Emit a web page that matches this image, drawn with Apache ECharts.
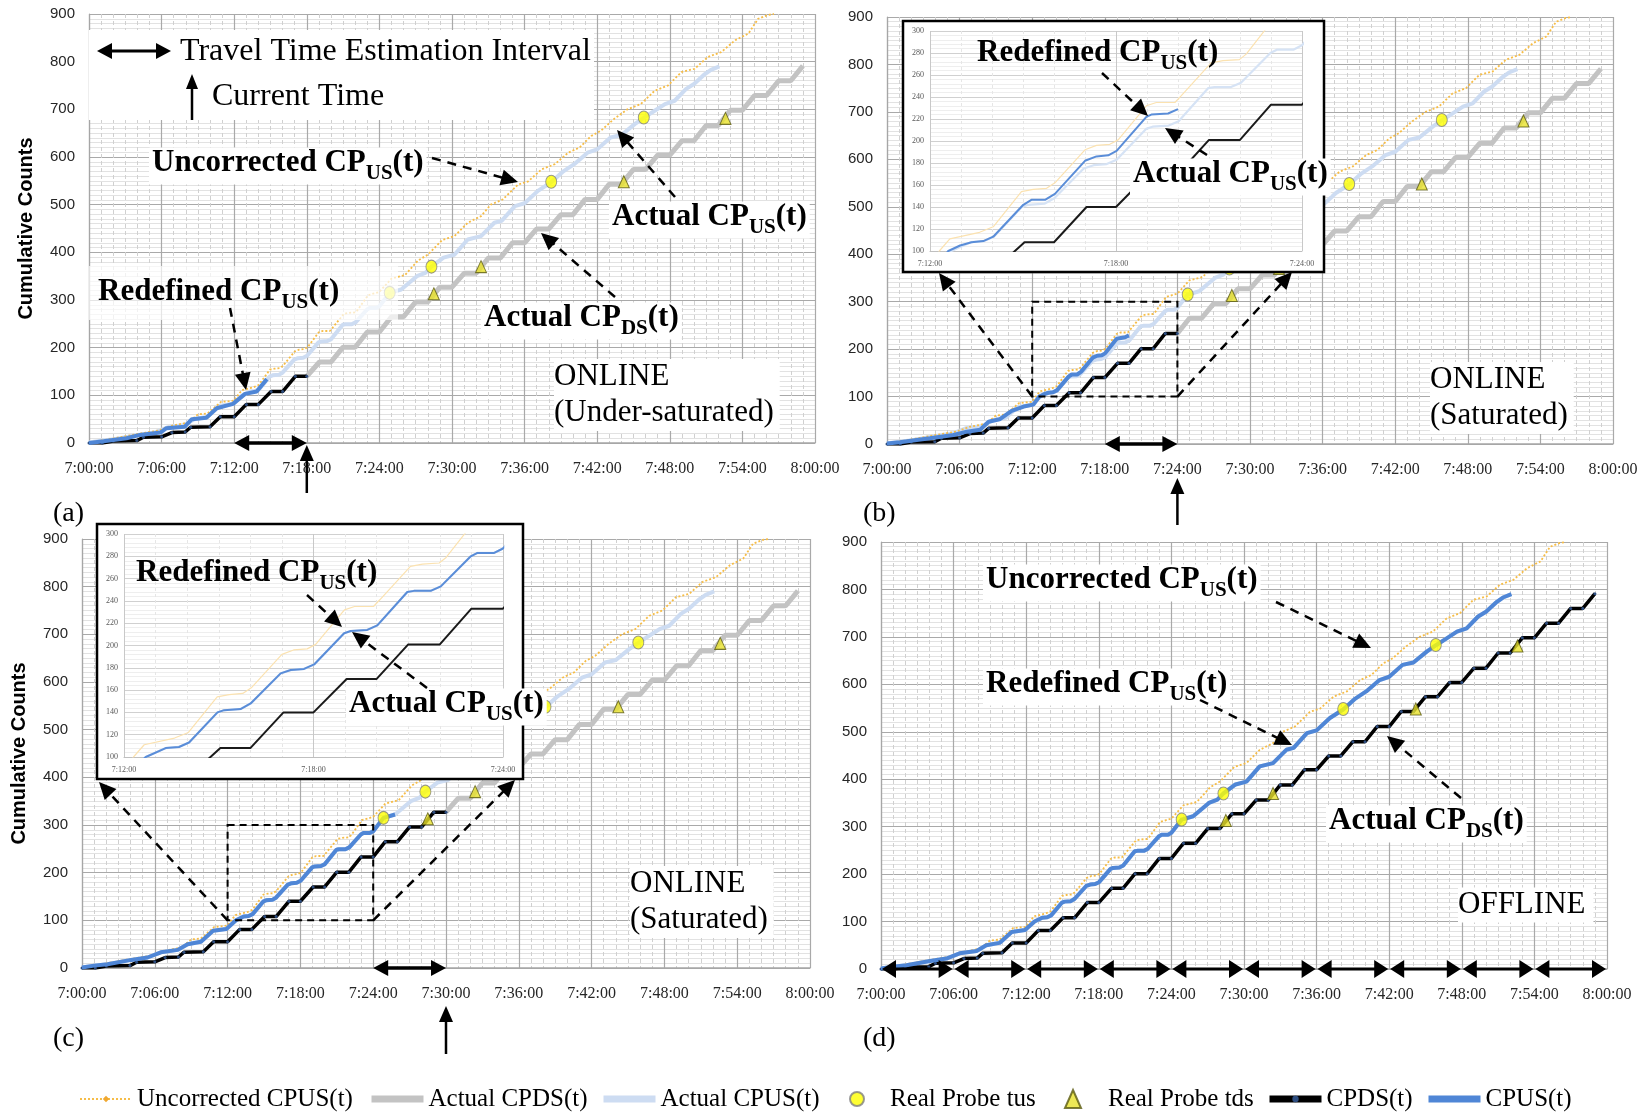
<!DOCTYPE html>
<html><head><meta charset="utf-8">
<script src="https://cdn.jsdelivr.net/npm/echarts@6/dist/echarts.min.js"></script>
<style>html,body{margin:0;padding:0;background:#fff}#c{width:1647px;height:1115px}</style>
</head><body><div id="c"></div>
<script>
// ---------------- DATA (x = minutes after 7:00:00, y = cumulative count) ----------------
const xTickLabels = ['7:00:00','7:06:00','7:12:00','7:18:00','7:24:00','7:30:00','7:36:00','7:42:00','7:48:00','7:54:00','8:00:00'];

const uncorrectedUS = [[0,1],[2.1,10],[4.05,19],[5.7,26],[6.8,36],[8.2,43],[9,60],[9.8,62],[10.9,86],[12,89],[12.3,100],[12.64,111],[13.6,117],[14.04,122],[14.95,154],[15.33,156],[15.76,157],[16.03,162],[17.0,192],[17.37,196],[17.8,197],[18.07,201],[18.98,232],[19.3,235],[19.9,235],[20.1,241],[21.07,271],[21.45,273],[21.98,274],[22.2,279],[23.06,310],[24,317],[25,345],[26.1,352],[27.2,383],[28,395],[29.2,426],[30.2,434],[31.3,462],[32.4,476],[33.2,500],[34.2,511],[35.45,542],[36.3,549],[37.4,574],[38.5,585],[39.6,609],[40.55,620],[41.5,644],[42.3,655],[43.4,680],[44.5,700],[45.6,711],[46.75,739],[47.85,750],[48.95,778],[50.05,785],[51.15,810],[52.25,820],[53.4,845],[54.5,859],[55.3,890],[56.1,898],[56.6,900]];

const actualUS = [[0,1],[1,5],[2.1,8],[4.05,17],[5.4,22],[6.5,33],[7.9,38],[8.7,50],[9.8,55],[10.8,78],[11.9,82],[12.69,100],[13.32,108],[13.74,109],[14.06,113],[14.96,140],[15.17,142],[15.69,143],[16.01,148],[16.96,175],[17.28,178],[17.7,179],[18.02,183],[18.97,211],[19.18,213],[19.7,214],[20.02,218],[20.97,248],[21.18,249],[21.71,249],[22.03,253],[22.98,280],[23.19,283],[23.72,283],[24,287],[24.85,315],[25.8,322],[27.1,350],[27.8,357],[28.3,370],[29.3,389],[30.2,395],[31.3,427],[32.4,434],[33.5,462],[34.1,466],[35.2,497],[36,503],[37.1,529],[38.2,547],[39.2,570],[40.1,585],[41.2,609],[42,616],[43.1,641],[44,646],[45.1,669],[45.9,683],[46.75,697],[47.6,711],[48.4,718],[49.35,743],[50,753],[50.9,774],[51.4,783],[52.1,790]];

const actualDS = [[0,0],[1.1,0],[2.0,4],[3.95,5],[4.5,12],[6.0,13],[6.85,22],[7.95,23],[8.4,33],[10.0,34],[10.85,55],[12,55],[13,81],[14,81],[15.05,108],[16,108],[17.05,140],[18,140],[19.05,170],[20,170],[21,201],[22,201],[23,233],[24,233],[25,265],[26,265],[27,296],[28,296],[29,327],[30,327],[31,356],[32,356],[33,388],[34,388],[35,420],[36,420],[37,449],[38,449],[39,479],[40,479],[41,511],[42,511],[43,543],[44,543],[45,574],[46,574],[47,604],[48,604],[49,634],[50,634],[51,666],[52,666],[53,698],[54,698],[55,729],[56,729],[57,760],[58,760],[59,791]];

const probeTus = [[24.85,315],[28.3,370],[38.2,548],[45.85,683]];
const probeTds = [[28.5,313],[32.4,370],[44.2,548],[52.6,681]];

// Redefined CPUS(t) per panel
const cpusA = [[0,0],[1.2,3.5],[3.1,10],[4.2,17],[5.9,22],[6.4,31],[7.9,34],[8.5,50],[9.7,53],[10.55,73],[11.9,82],[12.9,103],[13.86,108],[14.7,134]];
const cpusB = [[0,1],[1.07,3.5],[2.45,8.5],[3.55,12],[5.5,19],[6.6,26],[7.7,30],[8.4,47],[9.3,52],[10.3,70],[11.3,79],[12.1,83],[12.59,100],[12.97,105],[13.34,108],[13.72,109],[14.04,113],[15.01,142],[15.27,146.5],[15.71,146.5],[16.03,152],[17.0,182],[17.37,186],[17.75,187],[18.02,191],[18.98,222],[19.14,224],[19.68,225],[20.0,229]];
const cpusCEnd = 26.1;

// current time (minutes after 7:00) per panel a, b, c, d
const currentTime = [18, 24, 30, 59];

// ---------------- STYLE / LAYOUT ----------------
const SERIF = 'Liberation Serif', SANS = 'Liberation Sans';
const fmtX = v => xTickLabels[Math.round(v / 6)];
const mainGrids = [
  {left:89, top:14, width:726, height:429},
  {left:887, top:17, width:726, height:427},
  {left:82, top:539, width:728, height:429},
  {left:881, top:542, width:726, height:427}
];
const insetGrids = [
  {left:930, top:31, width:372, height:220},
  {left:124, top:534, width:379, height:223}
];
const grids = mainGrids.concat(insetGrids).map(g => Object.assign({show:false, outerBoundsMode:'none', containLabel:false}, g));

const xAxes = [], yAxes = [];
mainGrids.forEach((g, i) => {
  xAxes.push({gridIndex:i, type:'value', min:0, max:60, interval:6, z:1,
    axisLine:{show:true, onZero:false, lineStyle:{color:'#a6a6a6', width:1.5}}, axisTick:{show:false},
    axisLabel:{formatter:fmtX, fontFamily:SERIF, fontSize:16, color:'#262626', margin:18},
    splitLine:{show:true, lineStyle:{color:'#a9a9a9', width:1.2}},
    minorTick:{show:false, splitNumber:6},
    minorSplitLine:{show:true, lineStyle:{color:'#d0d0d0', width:1, type:[4,3]}}});
  yAxes.push({gridIndex:i, type:'value', min:0, max:900, interval:100, z:1,
    name:(i===0||i===2)?'Cumulative Counts':'', nameLocation:'middle', nameGap:53, nameRotate:90,
    nameTextStyle:{fontFamily:SANS, fontWeight:'bold', fontSize:20, color:'#000'},
    axisLine:{show:true, lineStyle:{color:'#a6a6a6', width:1.2}}, axisTick:{show:false},
    axisLabel:{fontFamily:SANS, fontSize:15, color:'#262626', margin:14},
    splitLine:{show:true, lineStyle:{color:'#a9a9a9', width:1.2}},
    minorTick:{show:false, splitNumber:10},
    minorSplitLine:{show:true, lineStyle:{color:'#e2e2e2', width:1}}});
});
insetGrids.forEach((g, k) => {
  const i = 4 + k;
  xAxes.push({gridIndex:i, type:'value', min:12, max:24, interval:6, z:60,
    axisLine:{show:true, onZero:false, lineStyle:{color:'#bfbfbf', width:1}}, axisTick:{show:false},
    axisLabel:{formatter:fmtX, fontFamily:SERIF, fontSize:8, color:'#595959', margin:9},
    splitLine:{show:true, lineStyle:{color:'#c8c8c8', width:1}},
    minorTick:{show:false, splitNumber:6},
    minorSplitLine:{show:true, lineStyle:{color:'#e6e6e6', width:1, type:[3,3]}}});
  yAxes.push({gridIndex:i, type:'value', min:100, max:300, interval:20, z:60,
    axisLine:{show:false}, axisTick:{show:false},
    axisLabel:{fontFamily:SERIF, fontSize:8, color:'#595959', margin:6},
    splitLine:{show:true, lineStyle:{color:'#d0d0d0', width:1}},
    minorTick:{show:false, splitNumber:5},
    minorSplitLine:{show:true, lineStyle:{color:'#eeeeee', width:1}}});
});

const C = {yel:'#f6bd48', gray:'#c3c3c3', lblue:'#cddcf2', black:'#000000', blue:'#4f86d6'};

function mainSeries(g, tNow, cpus) {
  const ax = {xAxisIndex:g, yAxisIndex:g, animation:false, showSymbol:false};
  return [
    Object.assign({name:'Uncorrected CPUS(t)', type:'line', data:uncorrectedUS, symbol:'diamond',
      lineStyle:{color:C.yel, width:1.8, type:[2,2]}, itemStyle:{color:'#f0a830'}, z:3}, ax),
    Object.assign({name:'Actual CPDS(t)', type:'line', data:actualDS.filter(p => p[0] >= tNow), symbol:'none',
      lineStyle:{color:C.gray, width:5}, itemStyle:{color:C.gray}, z:2}, ax),
    Object.assign({name:'Actual CPUS(t)', type:'line', data:actualUS, symbol:'none',
      lineStyle:{color:C.lblue, width:4}, itemStyle:{color:C.lblue}, z:2}, ax),
    {name:'Real Probe tus', type:'scatter', xAxisIndex:g, yAxisIndex:g, data:probeTus, symbol:'circle', symbolSize:[11,13],
      itemStyle:{color:'#ffff00', borderColor:'#7f7f7f', borderWidth:1}, z:8},
    {name:'Real Probe tds', type:'scatter', xAxisIndex:g, yAxisIndex:g, data:probeTds, symbol:'triangle', symbolSize:[11,12],
      itemStyle:{color:'#e8e22c', borderColor:'#5a5a10', borderWidth:1}, z:8},
    Object.assign({name:'CPDS(t)', type:'line', data:actualDS.filter(p => p[0] <= tNow), symbol:'circle', symbolSize:3,
      lineStyle:{color:C.black, width:3.5}, itemStyle:{color:'#2d4d80'}, z:5}, ax, {showSymbol:true}),
    Object.assign({name:'CPUS(t)', type:'line', data:cpus, symbol:'none',
      lineStyle:{color:C.blue, width:4}, itemStyle:{color:C.blue}, z:6}, ax)
  ];
}
function insetSeries(g, cpus) {
  const ax = {xAxisIndex:g, yAxisIndex:g, showSymbol:false, symbol:'none', clip:true};
  return [
    Object.assign({name:'Uncorrected CPUS(t)', type:'line', data:uncorrectedUS, lineStyle:{color:'#fbe2b0', width:1.2}, itemStyle:{color:C.yel}, z:61}, ax),
    Object.assign({name:'Actual CPUS(t)', type:'line', data:actualUS, lineStyle:{color:'#d6e3f5', width:2.2}, itemStyle:{color:C.lblue}, z:61}, ax),
    Object.assign({name:'CPDS(t)', type:'line', data:actualDS, lineStyle:{color:'#1a1a1a', width:2}, itemStyle:{color:'#000'}, z:62}, ax),
    Object.assign({name:'CPUS(t)', type:'line', data:cpus, lineStyle:{color:'#5a8dd8', width:2}, itemStyle:{color:C.blue}, z:63}, ax)
  ];
}
const cpusC = actualUS.filter(p => p[0] <= cpusCEnd);
const series = [].concat(
  mainSeries(0, currentTime[0], cpusA),
  mainSeries(1, currentTime[1], cpusB),
  mainSeries(2, currentTime[2], cpusC),
  mainSeries(3, currentTime[3], actualUS),
  insetSeries(4, cpusB),
  insetSeries(5, cpusC)
);

const legendItems = [
  {name:'Uncorrected CPUS(t)', left:79, w:52, h:8, pad:0, hideSym:false, lw:null},
  {name:'Actual CPDS(t)', left:368, w:52, h:18, pad:0, hideSym:true, lw:7},
  {name:'Actual CPUS(t)', left:600, w:52, h:18, pad:0, hideSym:true, lw:7},
  {name:'Real Probe tus', left:849, w:14, h:20, pad:21, hideSym:false, lw:null},
  {name:'Real Probe tds', left:1064, w:16, h:18, pad:22, hideSym:false, lw:null},
  {name:'CPDS(t)', left:1266, w:52, h:8, pad:0, hideSym:false, lw:7},
  {name:'CPUS(t)', left:1425, w:52, h:18, pad:0, hideSym:true, lw:7}
];
const legends = legendItems.map(it => {
  const L = {
    data:[it.name], left:it.left, top:1086, orient:'horizontal', padding:0, itemGap:0,
    itemWidth:it.w, itemHeight:it.h, selectedMode:false,
    textStyle:{fontFamily:SERIF, fontSize:25, color:'#000', lineHeight:26, rich:{p:{width:it.pad}}},
    formatter: name => (it.pad ? '{p|}' : '') + name
  };
  if (it.hideSym) L.itemStyle = {opacity:0};
  if (it.lw) L.lineStyle = {width:it.lw};
  return L;
});

const chart = echarts.init(document.getElementById('c'), null, {renderer:'canvas'});
chart.setOption({
  animation:false, backgroundColor:'#fff',
  grid:grids, xAxis:xAxes, yAxis:yAxes, series:series, legend:legends
});

// ---------------- ANNOTATIONS ----------------
const P = (g, t, v) => chart.convertToPixel({gridIndex:g}, [t, v]);
const G = [];
function arrow(x1, y1, x2, y2, o) {
  o = Object.assign({w:2.5, dash:null, head:17, hw:8, start:false, end:true, color:'#000', z:100}, o || {});
  const a = Math.atan2(y2 - y1, x2 - x1), ca = Math.cos(a), sa = Math.sin(a);
  let sx = x1, sy = y1, ex = x2, ey = y2;
  if (o.end) { ex = x2 - ca * o.head * 0.8; ey = y2 - sa * o.head * 0.8; }
  if (o.start) { sx = x1 + ca * o.head * 0.8; sy = y1 + sa * o.head * 0.8; }
  G.push({type:'line', z:o.z, shape:{x1:sx, y1:sy, x2:ex, y2:ey}, style:{stroke:o.color, lineWidth:o.w, lineDash:o.dash}});
  const head = (tx, ty, c, s) => [[tx, ty], [tx - c*o.head + s*o.hw, ty - s*o.head - c*o.hw], [tx - c*o.head - s*o.hw, ty - s*o.head + c*o.hw]];
  if (o.end) G.push({type:'polygon', z:o.z, shape:{points:head(x2, y2, ca, sa)}, style:{fill:o.color}});
  if (o.start) G.push({type:'polygon', z:o.z, shape:{points:head(x1, y1, -ca, -sa)}, style:{fill:o.color}});
}
function subLabel(x, cy, main, sub, tail, bg) {
  G.push({type:'text', z:100, x:x - 3, y:cy + 3, style:{
    text:'{b|' + main + '}{s|' + sub + '}{b|' + tail + '}',
    rich:{
      b:{fontFamily:SERIF, fontWeight:'bold', fontSize:31, fill:'#000', verticalAlign:'bottom', padding:[0,0,6,0]},
      s:{fontFamily:SERIF, fontWeight:'bold', fontSize:21, fill:'#000', verticalAlign:'bottom'}
    },
    align:'left', verticalAlign:'middle', backgroundColor:bg === false ? null : '#fff', padding:[0,3,0,3]
  }});
}
function plain(x, y, text, size, extra) {
  G.push({type:'text', z:100, x:x, y:y, style:Object.assign({text:text, fontFamily:SERIF, fontSize:size, fill:'#000', align:'left', verticalAlign:'middle'}, extra || {})});
}
function rect(x, y, w, h, style, z) { G.push({type:'rect', z:z, shape:{x:x, y:y, width:w, height:h}, style:style}); }
const DASH = [9, 7];

// panel (a)
rect(89, 30, 505, 90, {fill:'#fff'}, 40);
arrow(97, 51, 171, 51, {w:3, start:true, head:15, hw:8});
plain(180, 52, 'Travel Time Estimation Interval', 32);
arrow(192, 120, 192, 74, {w:2.5, head:15, hw:6});
plain(212, 97, 'Current Time', 32);
rect(89, 266, 309, 54, {fill:'rgba(255,255,255,0.7)'}, 40);
subLabel(152, 163, 'Uncorrected CP', 'US', '(t)');
arrow(432, 158, 518, 182, {dash:DASH});
subLabel(612, 217, 'Actual CP', 'US', '(t)');
arrow(675, 197, 617, 130, {dash:DASH});
subLabel(98, 292, 'Redefined CP', 'US', '(t)', false);
arrow(230, 308, 246, 390, {dash:DASH});
subLabel(484, 318, 'Actual CP', 'DS', '(t)');
arrow(615, 297, 541, 233, {dash:DASH});
plain(554, 359, 'ONLINE\n(Under-saturated)', 31, {verticalAlign:'top', lineHeight:36, backgroundColor:'#fff', padding:[0,6,0,0]});

// panel (b)
rect(903, 21, 421, 251, {fill:'#fff', stroke:'#000', lineWidth:2.5}, 50);
subLabel(977, 53, 'Redefined CP', 'US', '(t)', false);
arrow(1102, 73, 1148, 116, {dash:DASH});
subLabel(1133, 174, 'Actual CP', 'US', '(t)');
arrow(1207, 155, 1165, 128, {dash:DASH});
plain(1430, 362, 'ONLINE\n(Saturated)', 31, {verticalAlign:'top', lineHeight:36, backgroundColor:'#fff', padding:[0,6,0,0]});

// panel (c)
rect(97, 524, 426, 255, {fill:'#fff', stroke:'#000', lineWidth:2.5}, 50);
subLabel(136, 573, 'Redefined CP', 'US', '(t)', false);
arrow(307, 595, 342, 627, {dash:DASH});
subLabel(349, 704, 'Actual CP', 'US', '(t)');
arrow(427, 688, 352, 632, {dash:DASH});
plain(630, 866, 'ONLINE\n(Saturated)', 31, {verticalAlign:'top', lineHeight:36, backgroundColor:'#fff', padding:[0,6,0,0]});

// panel (d)
subLabel(986, 580, 'Uncorrected CP', 'US', '(t)');
arrow(1276, 602, 1371, 648, {dash:DASH});
subLabel(986, 684, 'Redefined CP', 'US', '(t)');
arrow(1200, 700, 1292, 745, {dash:DASH});
subLabel(1329, 821, 'Actual CP', 'DS', '(t)');
arrow(1461, 798, 1387, 736, {dash:DASH});
plain(1458, 905, 'OFFLINE', 31, {backgroundColor:'#fff', padding:[2,8,2,0]});

// zoom rectangles and pointers (b) and (c)
[[1, [939, 273], [1292, 272]], [2, [99, 782], [515, 780]]].forEach(([g, tl, tr]) => {
  const a = P(g, 12, 300), b = P(g, 24, 100);
  rect(a[0], a[1], b[0] - a[0], b[1] - a[1], {fill:null, stroke:'#000', lineWidth:2, lineDash:[7,5]}, 100);
  arrow(a[0], b[1], tl[0], tl[1], {dash:DASH});
  arrow(b[0], b[1], tr[0], tr[1], {dash:DASH});
});

// estimation intervals and current-time arrows
const tipOff = [2, 34, 38], tailOff = [50, 81, 86];
[0, 1, 2].forEach(g => {
  const p1 = P(g, currentTime[g] - 6, 0), p2 = P(g, currentTime[g], 0);
  arrow(p1[0], p1[1], p2[0], p2[1], {w:3.5, start:true, head:15, hw:8});
  arrow(p2[0], p2[1] + tailOff[g], p2[0], p2[1] + tipOff[g], {w:2.5, head:16, hw:7});
});
for (let k = 0; k < 10; k++) {
  const p1 = P(3, 6 * k, 0), p2 = P(3, 6 * k + 6, 0);
  arrow(p1[0] + 1, p1[1], p2[0] - 1, p2[1], {w:3, start:true, head:14, hw:9});
}

// panel letters
plain(53, 514, '(a)', 28);
plain(863, 514, '(b)', 28);
plain(53, 1039, '(c)', 28);
plain(863, 1039, '(d)', 28);

chart.setOption({graphic:G});
</script>
</body></html>
